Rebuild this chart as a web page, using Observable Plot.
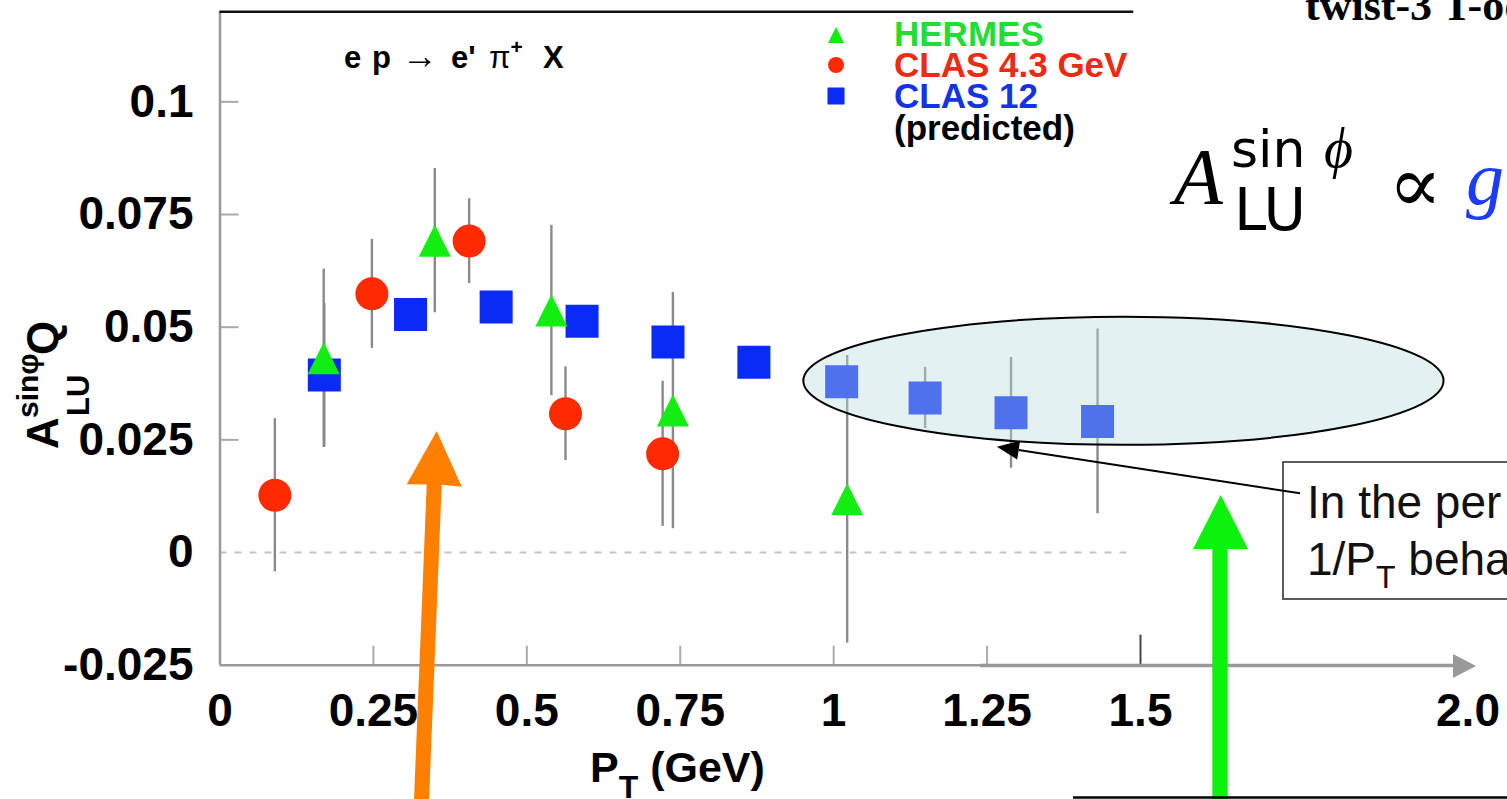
<!DOCTYPE html>
<html><head><meta charset="utf-8">
<script src="https://cdn.jsdelivr.net/npm/d3@7"></script>
<script src="https://cdn.jsdelivr.net/npm/@observablehq/plot@0.6"></script>
<style>html,body{margin:0;padding:0;background:#fff;overflow:hidden;} svg{display:block}</style>
</head><body><div id="chart"></div>
<script>
// ---- data ----
const xTicks = [0, 0.25, 0.5, 0.75, 1, 1.25, 1.5];
const xTickLabels = ["0", "0.25", "0.5", "0.75", "1", "1.25", "1.5"];
const yTicks = [-0.025, 0, 0.025, 0.05, 0.075, 0.1];
const yTickLabels = ["-0.025", "0", "0.025", "0.05", "0.075", "0.1"];

const seriesNames = ["HERMES", "CLAS 4.3 GeV", "CLAS 12"];

const hermesX = [0.169, 0.350, 0.540, 0.738, 1.022];
const hermesY = [0.0431, 0.0692, 0.0537, 0.0315, 0.0118];
const hermesErr = [0.0198, 0.0160, 0.0189, 0.0262, 0.0319];

const clasX = [0.0894, 0.2475, 0.406, 0.563, 0.7213];
const clasY = [0.0127, 0.0574, 0.0691, 0.0308, 0.0219];
const clasErr = [0.0170, 0.0121, 0.0094, 0.0104, 0.0161];

const clas12X = [0.170, 0.3105, 0.450, 0.590, 0.730, 0.870, 1.013, 1.149, 1.289, 1.430];
const clas12Y = [0.0394, 0.0528, 0.0545, 0.0513, 0.0467, 0.0422, 0.0379, 0.0343, 0.0310, 0.0291];
const clas12Err = [0.0158, 0.003, 0.003, 0.003, 0.003, 0.003, 0.003, 0.0068, 0.0123, 0.0205];

// ---- tables built from the arrays ----
const hermes = hermesX.map((x, i) => ({x, y: hermesY[i], e: hermesErr[i]}));
const clas = clasX.map((x, i) => ({x, y: clasY[i], e: clasErr[i]}));
const clas12 = clas12X.map((x, i) => ({x, y: clas12Y[i], e: clas12Err[i]}));
const allPts = [...hermes, ...clas, ...clas12];

const tri = {draw(ctx, size) { const r = Math.sqrt(size / Math.PI); ctx.moveTo(0, -r); ctx.lineTo(r, r); ctx.lineTo(-r, r); ctx.closePath(); }};
const sq = {draw(ctx, size) { const r = Math.sqrt(size / Math.PI); ctx.rect(-r, -r, 2 * r, 2 * r); }};

const GREEN = "#12ee12", RED = "#ff2a00", BLUE = "#0a2af5";
const SANS = "Liberation Sans, Arial, Helvetica, sans-serif";

const plot = Plot.plot({
  width: 1507, height: 799,
  marginLeft: 219.5, marginRight: 367, marginTop: 11.2, marginBottom: 134.3,
  x: {domain: [0, 1.5]},
  y: {domain: [-0.025, 0.12]},
  style: {background: "#fff", overflow: "hidden"},
  marks: [
    Plot.ruleY([0], {x1: 0, x2: 1.484, stroke: "#c4c4c4", strokeWidth: 2, strokeDasharray: "7,8"}),
    Plot.axisY({ticks: yTicks.filter(d => d > 0), tickSize: -19, tickFormat: () => "", stroke: "#aaa", strokeWidth: 2, label: null}),
    Plot.axisX({ticks: xTicks.slice(1, -1), tickSize: -19, tickFormat: () => "", stroke: "#aaa", strokeWidth: 2, label: null}),
    Plot.axisX({ticks: [1.5], tickSize: -30, tickFormat: () => "", stroke: "#444", strokeWidth: 2, label: null}),
    Plot.ruleX([0], {y1: -0.025, y2: 0.12, stroke: "#999", strokeWidth: 2.5}),
    Plot.ruleY([-0.025], {x1: 0, x2: 1.5, stroke: "#999", strokeWidth: 2.5}),
    Plot.ruleY([0.12], {x1: 0, x2: 1.489, stroke: "#111", strokeWidth: 2.5}),
    Plot.axisY({ticks: yTicks, tickFormat: d => yTickLabels[yTicks.indexOf(d)], tickSize: 0, tickPadding: 26.5,
      fontSize: 46, fontWeight: "bold", fontFamily: SANS, fill: "#000", label: null}),
    Plot.axisX({ticks: xTicks, tickFormat: d => xTickLabels[xTicks.indexOf(d)], tickSize: 0, tickPadding: 28,
      fontSize: 46, fontWeight: "bold", fontFamily: SANS, fill: "#000", label: null}),
    Plot.ruleX(allPts, {x: "x", y1: d => d.y - d.e, y2: d => d.y + d.e, stroke: "#8a8a8a", strokeWidth: 2.4}),
    Plot.dot(clas12, {x: "x", y: "y", symbol: sq, r: 16.5, fill: BLUE, stroke: null}),
    Plot.dot(clas, {x: "x", y: "y", symbol: "circle", r: 16.5, fill: RED, stroke: null}),
    Plot.dot(hermes, {x: "x", y: "y", symbol: tri, r: 16, fill: GREEN, stroke: null})
  ]
});
document.getElementById("chart").appendChild(plot);

// ---- annotations (slide overlays) ----
const svg = d3.select(plot);
const xs = plot.scale("x"), ys = plot.scale("y");
const X = v => xs.apply(v), Y = v => ys.apply(v);
const g = svg.append("g").attr("text-anchor", "start");

// highlight ellipse around the high-PT predictions
const ell = {cx: 1.473, cy: 0.038, rx: 0.5216, ry: 0.0142};
g.append("ellipse").attr("cx", X(ell.cx)).attr("cy", Y(ell.cy))
  .attr("rx", X(ell.cx + ell.rx) - X(ell.cx)).attr("ry", Y(ell.cy - ell.ry) - Y(ell.cy))
  .attr("fill", "#b9dce1").attr("fill-opacity", 0.4).attr("stroke", "#000").attr("stroke-width", 2);

// slide arrow extending the x axis
g.append("line").attr("x1", 980).attr("x2", 1455).attr("y1", 665.5).attr("y2", 665.5).attr("stroke", "#999").attr("stroke-width", 3.5);
g.append("path").attr("d", "M1476,666L1453,654L1453,678Z").attr("fill", "#999");
g.append("text").attr("x", 1468).attr("y", 726).attr("text-anchor", "middle").attr("font-family", SANS)
  .attr("font-weight", "bold").attr("font-size", 46).text("2.0");

// reaction label
const rt = g.append("text").attr("y", 68).attr("font-family", SANS).attr("font-weight", "bold")
  .attr("font-size", 31).style("white-space", "pre");
rt.append("tspan").attr("x", 344).text("e");
rt.append("tspan").attr("x", 372).text("p");
rt.append("tspan").attr("x", 402).attr("font-weight", "normal").attr("font-size", 36).text("\u2192");
rt.append("tspan").attr("x", 451).text("e'");
rt.append("tspan").attr("x", 489).attr("font-weight", "normal").text("\u03c0");
rt.append("tspan").attr("dy", -14).attr("font-size", 21).text("+");
rt.append("tspan").attr("x", 543).attr("dy", 14).text("X");

// legend
const legendRows = [
  {name: seriesNames[0], color: "#22dd33", mark: GREEN, sym: "tri", y: 35, base: 46},
  {name: seriesNames[1], color: "#ee2a10", mark: RED, sym: "circ", y: 65, base: 77},
  {name: seriesNames[2], color: "#1432e6", mark: BLUE, sym: "sq", y: 96, base: 108}
];
legendRows.forEach(r => {
  if (r.sym === "tri") g.append("path").attr("d", `M836,${r.y - 8}L844,${r.y + 8}L828,${r.y + 8}Z`).attr("fill", r.mark);
  if (r.sym === "circ") g.append("circle").attr("cx", 836).attr("cy", r.y).attr("r", 8).attr("fill", r.mark);
  if (r.sym === "sq") g.append("rect").attr("x", 827.5).attr("y", r.y - 8.5).attr("width", 17).attr("height", 17).attr("fill", r.mark);
  g.append("text").attr("x", 894).attr("y", r.base).attr("font-family", SANS).attr("font-weight", "bold")
    .attr("font-size", 35).attr("fill", r.color).text(r.name);
});
g.append("text").attr("x", 894).attr("y", 140).attr("font-family", SANS).attr("font-weight", "bold")
  .attr("font-size", 35).attr("fill", "#000").text("(predicted)");

// y axis title (rotated)
const yl = g.append("g").attr("transform", "translate(58,449) rotate(-90)")
  .attr("font-family", SANS).attr("font-weight", "bold").attr("fill", "#000");
yl.append("text").attr("x", 0).attr("y", 0).attr("font-size", 44).text("A");
yl.append("text").attr("x", 33).attr("y", 31).attr("font-size", 31).text("LU");
yl.append("text").attr("x", 31).attr("y", -20).attr("font-size", 30).text("sin\u03c6");
yl.append("text").attr("x", 94).attr("y", 0).attr("font-size", 44).text("Q");

// x axis title
const xt = g.append("text").attr("x", 590).attr("y", 782).attr("font-family", SANS).attr("font-weight", "bold").attr("font-size", 43)
  .style("white-space", "pre");
xt.append("tspan").text("P");
xt.append("tspan").attr("dy", 16).attr("font-size", 32).text("T");
xt.append("tspan").attr("dy", -16).text(" (GeV)");

// title fragment and formula
const SERIF = "Liberation Serif, Times New Roman, serif";
g.append("text").attr("x", 1305).attr("y", 20).attr("font-family", SERIF)
  .attr("font-weight", "bold").attr("font-size", 44).text("twist-3 T-od");
g.append("text").attr("x", 1174).attr("y", 204).attr("font-family", SERIF).attr("font-style", "italic").attr("font-size", 80).text("A");
g.append("text").attr("x", 1231).attr("y", 167).attr("font-family", "DejaVu Sans, sans-serif").attr("font-size", 52).text("sin");
g.append("text").attr("x", 1324).attr("y", 167).attr("font-family", SERIF).attr("font-style", "italic").attr("font-size", 56).text("\u03d5");
g.append("text").attr("x", 1234).attr("y", 230).attr("font-family", "DejaVu Sans, sans-serif").attr("font-size", 58).text("LU");
g.append("text").attr("x", 1388).attr("y", 212).attr("font-family", "Liberation Serif, DejaVu Serif, serif").attr("font-size", 80).text("\u221d");
g.append("text").attr("x", 1466).attr("y", 204).attr("font-family", SERIF).attr("font-style", "italic").attr("font-size", 76).attr("fill", "#1a3cff").text("g");

// callout box
g.append("rect").attr("x", 1283).attr("y", 462).attr("width", 300).attr("height", 137).attr("fill", "#fff").attr("stroke", "#333").attr("stroke-width", 1.6);
g.append("text").attr("x", 1307).attr("y", 518).attr("font-family", SANS).attr("font-size", 46).attr("fill", "#111").text("In the per");
const ct = g.append("text").attr("x", 1307).attr("y", 575).attr("font-family", SANS).attr("font-size", 46).attr("fill", "#111").style("white-space", "pre");
ct.append("tspan").text("1/P");
ct.append("tspan").attr("dy", 13).attr("font-size", 32).text("T");
ct.append("tspan").attr("dy", -13).text(" beha");

// callout pointer
const tip = [X(1.2668), Y(0.02336)], tail = [1300, 493.3];
const dx = tail[0] - tip[0], dy = tail[1] - tip[1], L = Math.hypot(dx, dy), ux = dx / L, uy = dy / L;
const hb = [tip[0] + 22 * ux, tip[1] + 22 * uy];
g.append("line").attr("x1", hb[0]).attr("y1", hb[1]).attr("x2", tail[0]).attr("y2", tail[1]).attr("stroke", "#000").attr("stroke-width", 2);
g.append("path").attr("d", `M${tip[0]},${tip[1]}L${hb[0] - 9.5 * uy},${hb[1] + 9.5 * ux}L${hb[0] + 9.5 * uy},${hb[1] - 9.5 * ux}Z`).attr("fill", "#000");

// orange arrow
g.append("path").attr("d", "M413.8,805L428.8,805L441.7,484.7L461.7,486.7L436.7,431L406.7,484.3L426.7,484.5Z").attr("fill", "#ff8000");
// green arrow
g.append("path").attr("d", "M1212.3,805L1227.7,805L1227.7,549L1248,549L1220.7,495L1193,549L1212.3,549Z").attr("fill", "#0df20d");
// bottom slide rule
g.append("line").attr("x1", 1073).attr("x2", 1507).attr("y1", 797.5).attr("y2", 797.5).attr("stroke", "#000").attr("stroke-width", 2.5);
</script>
</body></html>
